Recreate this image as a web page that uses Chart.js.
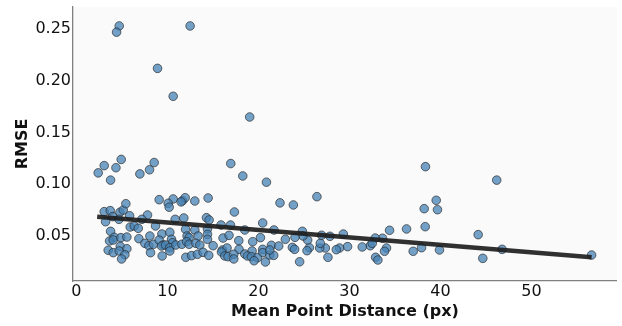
<!DOCTYPE html>
<html>
<head>
<meta charset="utf-8">
<script src="https://cdn.jsdelivr.net/npm/chart.js@4.4.0/dist/chart.umd.min.js"></script>
<style>
html,body{margin:0;padding:0;background:#fff;}
#wrap{width:622px;height:326px;}
</style>
</head>
<body>
<div id="wrap"><canvas id="c" width="622" height="326"></canvas></div>
<script>
// Mean point distance (px)
const meanDistance = [
4.70,4.41,12.49,8.91,10.63,19.04,
2.39,3.05,3.75,4.34,4.92,6.97,8.03,8.54,16.96,18.28,20.88,22.37,23.84,26.43,
38.36,46.19,39.54,38.22,39.68,38.33,44.15,44.66,46.78,56.62,39.90,37.93,37.01,36.28,
34.41,33.64,32.84,34.08,33.86,32.88,33.13,32.29,32.51,31.41,29.80,28.92,28.56,29.33,
27.86,27.64,27.35,26.73,26.80,26.95,25.60,25.34,25.41,24.83,24.90,24.53,
9.09,3.05,3.71,3.20,3.97,4.78,5.14,5.43,4.67,5.84,7.81,7.19,8.69,5.91,6.35,6.79,
3.75,9.39,4.15,3.64,4.04,4.88,5.54,6.86,8.07,7.52,7.96,8.47,9.09,9.53,4.81,5.54,
3.49,4.04,4.70,5.32,4.96,8.14,9.42,
10.63,10.08,10.19,11.66,11.95,11.50,13.01,14.47,17.36,10.85,11.80,14.29,14.58,15.89,
16.93,10.26,11.99,13.01,14.40,14.40,10.45,10.56,12.16,12.38,13.37,14.40,16.11,16.77,
17.84,9.35,9.79,10.26,10.92,11.58,12.10,12.38,13.12,13.56,15.02,16.05,16.55,17.87,
18.50,10.26,12.02,12.65,13.30,13.92,14.54,15.94,16.30,16.66,17.29,17.29,
20.47,18.50,21.71,20.22,19.37,22.96,24.02,21.43,22.23,23.73,23.98,20.47,20.47,19.30,
18.79,19.23,19.89,19.52,20.77,21.24,21.68,21.24
];
// RMSE
const rmse = [
0.253,0.247,0.253,0.212,0.185,0.165,
0.111,0.118,0.104,0.116,0.124,0.110,0.114,0.121,0.120,0.108,0.102,0.082,0.080,0.088,
0.117,0.104,0.0845,0.0764,0.0754,0.059,0.0513,0.0284,0.0371,0.0316,0.0365,0.0387,0.0352,0.0568,
0.0555,0.0478,0.048,0.0384,0.0352,0.0294,0.0268,0.0406,0.0429,0.0394,0.0397,0.0384,0.0368,0.0519,
0.0497,0.0294,0.0384,0.0384,0.0429,0.0507,0.0387,0.0358,0.0461,0.0545,0.050,0.0251,
0.0851,0.0735,0.0745,0.0638,0.0687,0.0729,0.0751,0.0812,0.0661,0.0696,0.0703,0.0661,0.0597,0.0587,0.0597,0.0574,
0.0545,0.0519,0.0487,0.0452,0.0461,0.0484,0.049,0.0474,0.050,0.0429,0.0406,0.042,0.0461,0.0413,0.040,0.0377,
0.0362,0.0339,0.0355,0.0319,0.0278,0.0339,0.0307,
0.0858,0.0816,0.0778,0.0841,0.087,0.083,0.0838,0.0867,0.0732,0.0661,0.0674,0.0677,0.0655,0.0606,
0.0606,0.0536,0.0565,0.0558,0.0568,0.0516,0.0468,0.0435,0.050,0.0484,0.050,0.0468,0.048,0.0506,
0.0455,0.0403,0.0413,0.0387,0.0413,0.042,0.0445,0.042,0.0429,0.0413,0.0406,0.0365,0.0384,0.0371,
0.0326,0.0355,0.0294,0.031,0.0323,0.0342,0.0313,0.0345,0.0307,0.030,0.0323,0.0278,
0.0626,0.0558,0.0558,0.0484,0.0445,0.0468,0.0487,0.041,0.0403,0.0390,0.0371,0.0371,0.0339,0.0355,
0.0307,0.030,0.029,0.0261,0.0249,0.0316,0.0313,0.0365
];
// Fitted regression line (endpoints over the data range)
const trendX = [2.28, 56.62];
const trendY = [0.0687, 0.0294];
const xTicks = [0, 10, 20, 30, 40, 50];
const yTicks = [0.05, 0.10, 0.15, 0.20, 0.25];
const xLimits = [-0.38, 59.4];
const yLimits = [0.0065, 0.2713];

const points = meanDistance.map((x, i) => ({x: x, y: rmse[i]}));
const trend = trendX.map((x, i) => ({x: x, y: trendY[i]}));

const bgPlugin = {
  id: 'bg',
  beforeDraw(chart) {
    const {ctx, chartArea: a} = chart;
    ctx.save();
    ctx.fillStyle = '#ffffff';
    ctx.fillRect(0, 0, chart.width, chart.height);
    ctx.fillStyle = '#fafafa';
    ctx.fillRect(a.left, a.top, a.right - a.left, a.bottom - a.top);
    ctx.restore();
  }
};

const font = 'DejaVu Sans';
new Chart(document.getElementById('c'), {
  type: 'scatter',
  data: {
    datasets: [
      {
        type: 'line',
        data: trend,
        borderColor: 'rgba(30,30,30,0.92)',
        borderWidth: 4.5,
        pointRadius: 0,
        fill: false,
        order: 0
      },
      {
        data: points,
        backgroundColor: 'rgba(70,130,180,0.75)',
        borderColor: 'rgba(40,40,40,0.85)',
        borderWidth: 0.8,
        pointRadius: 4.3,
        order: 1
      }
    ]
  },
  options: {
    responsive: false,
    animation: false,
    layout: {padding: {top: 7, right: 4, left: 0, bottom: 0}},
    plugins: {legend: {display: false}, tooltip: {enabled: false}},
    scales: {
      x: {
        type: 'linear',
        min: xLimits[0], max: xLimits[1],
        afterBuildTicks(s) { s.ticks = xTicks.map(v => ({value: v})); },
        afterFit(s) { s.height = 45; s.paddingLeft = 0; s.paddingRight = 0; },
        grid: {display: false, drawTicks: false},
        border: {display: true, color: '#808080', width: 1.3},
        ticks: {color: '#111', font: {family: font, size: 16}, padding: 1, maxRotation: 0,
          callback: v => String(v)},
        title: {display: true, text: 'Mean Point Distance (px)', color: '#111',
          font: {family: font, size: 16, weight: 'bold'}, padding: {top: 0, bottom: 5}}
      },
      y: {
        type: 'linear',
        min: yLimits[0], max: yLimits[1],
        afterBuildTicks(s) { s.ticks = yTicks.map(v => ({value: v})); },
        afterFit(s) { s.width = 73; s.paddingTop = 0; s.paddingBottom = 0; },
        grid: {display: false, drawTicks: false},
        border: {display: true, color: '#808080', width: 1.3},
        ticks: {color: '#111', font: {family: font, size: 16}, padding: 2,
          callback: v => Number(v).toFixed(2)},
        title: {display: true, text: 'RMSE', color: '#111',
          font: {family: font, size: 16, weight: 'bold'}, padding: {top: 13, bottom: 0}}
      }
    }
  },
  plugins: [bgPlugin]
});
</script>
</body>
</html>
